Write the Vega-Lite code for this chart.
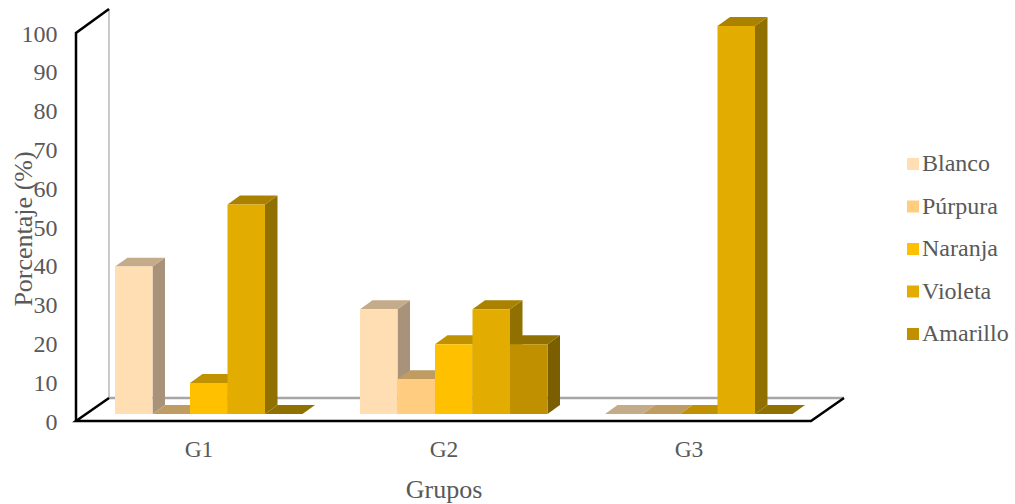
{
"$schema":"https://vega.github.io/schema/vega-lite/v6.json",
"width":768,"height":412,
"autosize":{"type":"none"},
"padding":{"left":76,"top":9,"right":171,"bottom":83},
"background":"white",
"config":{"view":{"stroke":null},"font":"Liberation Serif"},
"datasets":{
"barras":[
{"grupo":"G1","serie":"Blanco","valor":38},{"grupo":"G1","serie":"Púrpura","valor":0},{"grupo":"G1","serie":"Naranja","valor":8},{"grupo":"G1","serie":"Violeta","valor":54},{"grupo":"G1","serie":"Amarillo","valor":0},
{"grupo":"G2","serie":"Blanco","valor":27},{"grupo":"G2","serie":"Púrpura","valor":9},{"grupo":"G2","serie":"Naranja","valor":18},{"grupo":"G2","serie":"Violeta","valor":27},{"grupo":"G2","serie":"Amarillo","valor":18},
{"grupo":"G3","serie":"Blanco","valor":0},{"grupo":"G3","serie":"Púrpura","valor":0},{"grupo":"G3","serie":"Naranja","valor":0},{"grupo":"G3","serie":"Violeta","valor":100},{"grupo":"G3","serie":"Amarillo","valor":0}
],
"marco":[
{"tramo":"pared","orden":0,"u":0.1347,"p":5.93},{"tramo":"pared","orden":1,"u":0.1347,"p":106.186},
{"tramo":"fondo","orden":0,"u":0.1347,"p":5.93},{"tramo":"fondo","orden":1,"u":3.1347,"p":5.93},
{"tramo":"piso","orden":0,"u":0.1347,"p":5.93},{"tramo":"piso","orden":1,"u":0,"p":0},{"tramo":"piso","orden":2,"u":3,"p":0},{"tramo":"piso","orden":3,"u":3.1347,"p":5.93},
{"tramo":"eje","orden":0,"u":0,"p":0},{"tramo":"eje","orden":1,"u":0,"p":100},{"tramo":"eje","orden":2,"u":0.1347,"p":106.186}
]
},
"encoding":{
  "x":{"field":"u","type":"quantitative","scale":{"domain":[0,3.1347],"nice":false,"zero":false},
   "axis":{"values":[0.5,1.5,2.5],"labelExpr":"['G1','G2','G3'][floor(datum.value)]","domain":false,"ticks":false,"grid":false,"labelFont":"Liberation Serif","labelFontSize":23.5,"labelColor":"#595959","labelPadding":16.5,"title":"Grupos","titleFont":"Liberation Serif","titleFontSize":26,"titleFontWeight":"normal","titleColor":"#595959","titleX":367.5,"titleY":55}},
  "y":{"field":"p","type":"quantitative","scale":{"domain":[0,106.186],"nice":false,"zero":false},
   "axis":{"values":[0,10,20,30,40,50,60,70,80,90,100],"domain":false,"ticks":false,"grid":false,"labelFont":"Liberation Serif","labelFontSize":24,"labelColor":"#595959","labelPadding":19,"labelOffset":1,"title":"Porcentaje (%)","titleFont":"Liberation Serif","titleFontSize":26,"titleFontWeight":"normal","titleColor":"#595959","titleX":-40,"titleY":219.5}}
},
"layer":[
{"data":{"name":"marco"},"transform":[{"filter":"datum.tramo=='pared'"}],
 "mark":{"type":"line","stroke":"#A6A6A6","strokeWidth":1.2,"clip":false},
 "encoding":{"detail":{"field":"tramo","type":"nominal"},"order":{"field":"orden","type":"quantitative"}}},
{"data":{"name":"marco"},"transform":[{"filter":"datum.tramo=='fondo'"}],
 "mark":{"type":"line","stroke":"#A6A6A6","strokeWidth":2.5,"clip":false},
 "encoding":{"detail":{"field":"tramo","type":"nominal"},"order":{"field":"orden","type":"quantitative"}}},
{"data":{"name":"barras"},"transform":[
{"calculate":"indexof(['G1','G2','G3'],datum.grupo)+0.1592+indexof(['Blanco','Púrpura','Naranja','Violeta','Amarillo'],datum.serie)*0.15306+0.15306","as":"xr"},
{"calculate":"1.8+datum.valor","as":"v"},
{"calculate":"datum.grupo+datum.serie","as":"clave"},
{"calculate":"[0,1]","as":"t"},{"flatten":["t"]},{"calculate":"datum.xr+datum.t*0.051","as":"u"},{"calculate":"1.8+datum.t*2.3","as":"p"},{"calculate":"datum.v+datum.t*2.3","as":"p2"}],
 "mark":{"type":"area","clip":false,"orient":"vertical"},
 "encoding":{
  "y2":{"field":"p2"},
  "detail":{"field":"clave","type":"nominal"},
  "color":{"field":"serie","type":"nominal","legend":null,"scale":{"domain":["Blanco","Púrpura","Naranja","Violeta","Amarillo"],"range":["#A8937A","#A68A5A","#A88000","#907000","#7A5E00"]}}
 }},
{"data":{"name":"barras"},"transform":[
{"calculate":"indexof(['G1','G2','G3'],datum.grupo)+0.1592+indexof(['Blanco','Púrpura','Naranja','Violeta','Amarillo'],datum.serie)*0.15306","as":"xl"},
{"calculate":"datum.xl+0.15306","as":"xr"},
{"calculate":"1.8+datum.valor","as":"v"},
{"calculate":"datum.grupo+datum.serie","as":"clave"},
{"calculate":"[0,1,2,3]","as":"k"},{"flatten":["k"]},{"calculate":"[datum.xl,datum.xl+0.051,datum.xr,datum.xr+0.051][datum.k]","as":"u"},{"calculate":"datum.v+[0,0,0,2.3][datum.k]","as":"p"},{"calculate":"datum.v+[0,2.3,2.3,2.3][datum.k]","as":"p2"}],
 "mark":{"type":"area","clip":false,"orient":"vertical"},
 "encoding":{
  "y2":{"field":"p2"},
  "detail":{"field":"clave","type":"nominal"},
  "color":{"field":"serie","type":"nominal","legend":null,"scale":{"domain":["Blanco","Púrpura","Naranja","Violeta","Amarillo"],"range":["#C4AB8A","#BE9C62","#C09200","#AA8200","#907000"]}}
 }},
{"data":{"name":"barras"},"transform":[
{"calculate":"indexof(['G1','G2','G3'],datum.grupo)+0.1592+indexof(['Blanco','Púrpura','Naranja','Violeta','Amarillo'],datum.serie)*0.15306","as":"u"},
{"calculate":"datum.u+0.15306","as":"u2"},
{"calculate":"1.8+datum.valor","as":"p2"},
{"calculate":"1.8","as":"p"},
{"filter":"datum.valor>0"}],
 "mark":{"type":"rect","clip":false},
 "encoding":{
  "x2":{"field":"u2"},
  "y2":{"field":"p2"},
  "color":{"field":"serie","type":"nominal","scale":{"domain":["Blanco","Púrpura","Naranja","Violeta","Amarillo"],"range":["#FFDEB3","#FFCC80","#FFC000","#E2AC00","#C09000"]},
   "legend":{"orient":"none","legendX":825,"legendY":143,"title":null,"symbolType":"square","symbolSize":144,"symbolStrokeWidth":0,"labelFont":"Liberation Serif","labelFontSize":24,"labelColor":"#595959","labelLimit":200,"rowPadding":18.5,"labelOffset":-3}}
 }},
{"data":{"name":"marco"},"transform":[{"filter":"datum.tramo=='piso'||datum.tramo=='eje'"}],
 "mark":{"type":"line","stroke":"#000000","strokeWidth":2.5,"clip":false,"strokeJoin":"miter"},
 "encoding":{"detail":{"field":"tramo","type":"nominal"},"order":{"field":"orden","type":"quantitative"}}}
],
"resolve":{"scale":{"color":"independent"}}
}
